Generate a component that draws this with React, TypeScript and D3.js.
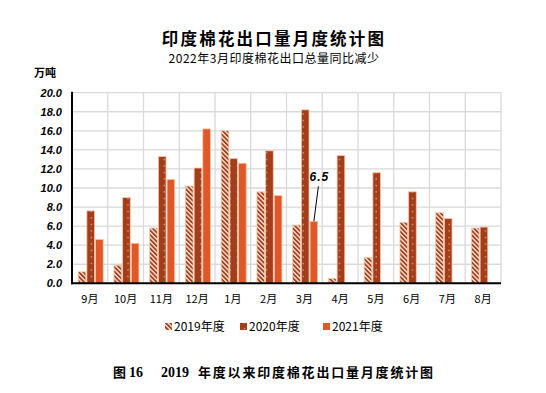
import React from "react";
import * as d3 from "d3";

const months = ["9月", "10月", "11月", "12月", "1月", "2月", "3月", "4月", "5月", "6月", "7月", "8月"];
const series = ["2019年度", "2020年度", "2021年度"];
const v2019 = [1.2, 1.9, 5.8, 10.2, 16.0, 9.6, 6.1, 0.5, 2.7, 6.4, 7.4, 5.8];
const v2020 = [7.6, 9.0, 13.3, 12.1, 13.1, 13.9, 18.2, 13.4, 11.6, 9.6, 6.8, 5.9];
const v2021: (number | null)[] = [4.6, 4.2, 10.9, 16.2, 12.6, 9.2, 6.5, null, null, null, null, null];
const yTicks = [0, 2, 4, 6, 8, 10, 12, 14, 16, 18, 20];

const W = 546, H = 393;
const left = 72, right = 501, top = 92.7, bottom = 283.3;

export default function App() {
  const x = d3.scaleBand<string>().domain(months).range([left, right]).padding(0);
  const xs = d3.scaleBand<string>().domain(series).range([6.2, 31.2]).paddingInner(0.12).paddingOuter(0);
  const y = d3.scaleLinear().domain([0, 20]).range([bottom, top]);
  const data = [v2019, v2020, v2021];
  const fills = ["url(#p2019)", "url(#p2020)", "#E0582A"];
  const sans = "'Liberation Sans', Arial, 'Noto Sans CJK SC', sans-serif";
  const cjk = "'Noto Sans CJK SC', 'Liberation Sans', sans-serif";
  const bw = xs.bandwidth();

  const labelIdx = 6;
  const lx = (x(months[labelIdx]) as number) + (xs(series[2]) as number) + bw / 2;
  const ly = y(v2021[labelIdx] as number);

  const legendX = [165, 240, 323];

  return (
    <svg width={W} height={H} style={{ position: "absolute", left: 0, top: 0, background: "#fff" }}>
      <defs>
        <pattern id="p2019" patternUnits="userSpaceOnUse" width="3.2" height="3.2" patternTransform="rotate(-45)">
          <rect width="3.2" height="3.2" fill="#FBE3D6" />
          <rect width="1.8" height="3.2" fill="#A0401C" />
        </pattern>
        <pattern id="p2020" patternUnits="userSpaceOnUse" width="7.3" height="6.5">
          <rect width="7.3" height="6.5" fill="#A33D1A" />
          <rect x="3.3" y="3" width="1" height="1" fill="#fff" />
        </pattern>
      </defs>
      <rect width={W} height={H} fill="#fff" />
      {/* titles */}
      <text x={274} y={44.5} textAnchor="middle" fontFamily={cjk} fontWeight="bold" fontSize={16.5} letterSpacing={2.2} fill="#000">
        印度棉花出口量月度统计图
      </text>
      <text x={274} y={63} textAnchor="middle" fontFamily={cjk} fontSize={12} letterSpacing={0.5} fill="#000">
        2022年3月印度棉花出口总量同比减少
      </text>
      <text x={34} y={77} fontFamily={cjk} fontWeight="bold" fontSize={11} fill="#000">万吨</text>

      {/* gridlines */}
      {yTicks.map((t) => (
        <line key={"h" + t} x1={left} x2={right} y1={y(t)} y2={y(t)} stroke="#D9D9D9" strokeWidth={1.3} />
      ))}
      {months.map((m) => (
        <line key={"v" + m} x1={(x(m) as number) + x.bandwidth()} x2={(x(m) as number) + x.bandwidth()} y1={top} y2={bottom} stroke="#D9D9D9" strokeWidth={1.3} />
      ))}

      {/* bars */}
      {data.map((arr, si) =>
        arr.map((v, i) =>
          v == null ? null : (
            <rect
              key={si + "-" + i}
              x={(x(months[i]) as number) + (xs(series[si]) as number)}
              y={y(v)}
              width={bw}
              height={bottom - y(v)}
              fill={fills[si]}
              stroke="#F6C5A8"
              strokeWidth={0.8}
            />
          )
        )
      )}

      {/* axes */}
      <line x1={left} x2={left} y1={top - 1} y2={bottom + 1} stroke="#000" strokeWidth={2} />
      <line x1={left - 1} x2={right} y1={bottom} y2={bottom} stroke="#000" strokeWidth={2} />

      {yTicks.map((t) => (
        <text key={"yt" + t} x={62} y={y(t) + 4} textAnchor="end" fontFamily={sans} fontWeight="bold" fontStyle="italic" fontSize={11} fill="#000">
          {t.toFixed(1)}
        </text>
      ))}
      {months.map((m) => (
        <text key={"xt" + m} x={(x(m) as number) + x.bandwidth() / 2} y={303} textAnchor="middle" fontFamily={cjk} fontSize={11} fill="#000">
          {m}
        </text>
      ))}

      {/* data label */}
      <line x1={lx + 4.5} y1={ly - 35} x2={lx} y2={ly} stroke="#000" strokeWidth={1} />
      <text x={lx + 5.5} y={ly - 40} textAnchor="middle" fontFamily={sans} fontWeight="bold" fontStyle="italic" fontSize={12} letterSpacing={1} fill="#000">
        {(v2021[labelIdx] as number).toFixed(1)}
      </text>

      {/* legend */}
      {series.map((s, i) => (
        <g key={"lg" + s}>
          <rect x={legendX[i]} y={323} width={7} height={7} fill={fills[i]} />
          <text x={legendX[i] + 9} y={331} fontFamily={cjk} fontSize={12} fill="#000">{s}</text>
        </g>
      ))}

      {/* footer */}
      <text x={113} y={377} fontFamily={cjk} fontWeight="bold" fontSize={13} fill="#000">图</text>
      <text x={129} y={377} fontFamily="'Liberation Serif', serif" fontWeight="bold" fontSize={14} fill="#000">16</text>
      <text x={161} y={377} fontFamily="'Liberation Serif', serif" fontWeight="bold" fontSize={14} fill="#000">2019</text>
      <text x={198} y={377} fontFamily={cjk} fontWeight="bold" fontSize={13} textLength={235} lengthAdjust="spacing" fill="#000">
        年度以来印度棉花出口量月度统计图
      </text>
    </svg>
  );
}
